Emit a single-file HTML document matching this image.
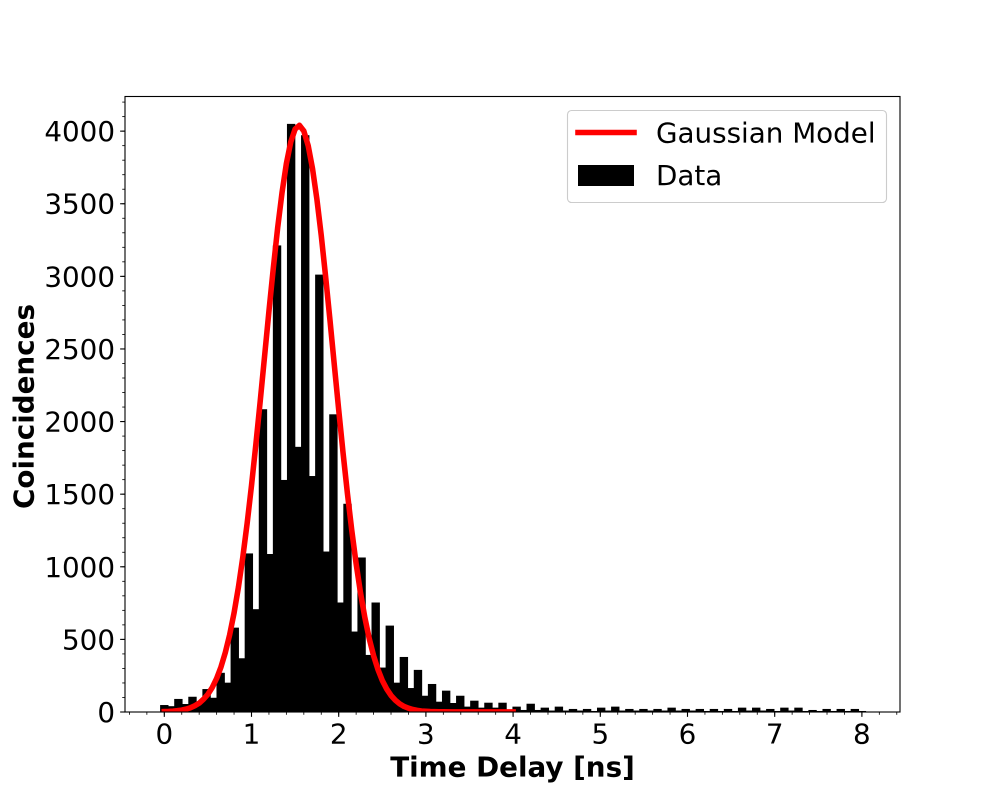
<!DOCTYPE html>
<html lang="en">
<head>
<meta charset="utf-8">
<title>Time Delay Histogram</title>
<style>
html,body{margin:0;padding:0;background:#fff;width:1000px;height:800px;overflow:hidden}
svg{display:block}
text{font-family:"DejaVu Sans","Liberation Sans",sans-serif;fill:#000}
</style>
</head>
<body>
<svg id="chart" xmlns="http://www.w3.org/2000/svg" width="1000" height="800" viewBox="0 0 1000 800">
  <defs><clipPath id="plot-clip"><rect x="125" y="96" width="775" height="616"/></clipPath></defs>
  <rect x="0" y="0" width="1000" height="800" fill="#fff"/>
  <g id="bars"></g>
  <polyline id="curve" fill="none" stroke="#ff0000" stroke-width="5.56" stroke-linejoin="round" stroke-linecap="square" clip-path="url(#plot-clip)"/>
  <g id="ticks"></g>
  <rect x="125" y="96.5" width="775" height="615.5" fill="none" stroke="#000" stroke-width="1.11"/>
  <text x="512.5" y="776.5" text-anchor="middle" font-size="27.78" font-weight="700">Time Delay [ns]</text>
  <text transform="translate(33.5,406.5) rotate(-90)" text-anchor="middle" font-size="27.78" font-weight="700">Coincidences</text>
  <g>
    <rect x="567.5" y="110.5" width="319" height="92" rx="4" ry="4" fill="#fff" fill-opacity="0.8" stroke="#cccccc" stroke-width="1.11"/>
    <line x1="578" y1="132.5" x2="634" y2="132.5" stroke="#ff0000" stroke-width="5.56" stroke-linecap="square"/>
    <text x="656" y="142.5" font-size="27.78">Gaussian Model</text>
    <rect x="578" y="165" width="56" height="21" fill="#000"/>
    <text x="656" y="185" font-size="27.78">Data</text>
  </g>
</svg>
<script>
const binValues = [48,40,90,55,105,70,158,98,270,202,581,370,1092,708,2085,1088,3213,1598,4050,1826,3972,1625,3012,1105,2050,754,1434,554,1064,393,754,306,595,202,379,165,290,112,193,71,147,62,112,37,78,30,64,30,64,14,37,14,57,14,30,10,37,10,21,10,21,7,30,10,37,10,21,10,21,10,21,10,30,10,21,10,21,7,21,7,21,7,30,10,30,10,21,7,30,10,30,7,14,7,21,7,21,7,21,7];
const binCount = binValues.length;
const binStart = 0;
const binEnd = 8;
const barWidth = 0.096;
const modelDelays = [0,0.05,0.1,0.15,0.2,0.25,0.3,0.35,0.4,0.45,0.5,0.55,0.6,0.65,0.7,0.75,0.8,0.85,0.9,0.95,1,1.05,1.1,1.15,1.2,1.25,1.3,1.35,1.4,1.45,1.5,1.55,1.6,1.65,1.7,1.75,1.8,1.85,1.9,1.95,2,2.05,2.1,2.15,2.2,2.25,2.3,2.35,2.4,2.45,2.5,2.55,2.6,2.65,2.7,2.75,2.8,2.85,2.9,2.95,3,3.05,3.1,3.15,3.2,3.3,3.4,3.6,3.8,4];
const modelCounts = [3,4,6,9,13,20,29,43,61,88,122,169,231,310,410,533,682,859,1065,1299,1559,1843,2141,2450,2760,3056,3334,3576,3777,3925,4014,4040,4001,3900,3741,3531,3281,2998,2698,2388,2081,1784,1505,1250,1021,821,650,506,388,293,217,159,114,81,56,38,26,17,11,7,5,3,2,1.5,1.2,1,1,1,1,1];
const xTickLabels = ["0","1","2","3","4","5","6","7","8"];
const yTickLabels = ["0","500","1000","1500","2000","2500","3000","3500","4000"];
const xMinorStep = 0.2;
const yMinorStep = 100;
const xDomain = [-0.4507, 8.437];
const yDomain = [0, 4242];

const NS = 'http://www.w3.org/2000/svg';
function xScale(v){ return 125 + (v - xDomain[0]) / (xDomain[1] - xDomain[0]) * 775; }
function yScale(v){ return 712 - (v - yDomain[0]) / (yDomain[1] - yDomain[0]) * 616; }
function make(tag, attrs){
  const el = document.createElementNS(NS, tag);
  for (const k in attrs) el.setAttribute(k, attrs[k]);
  return el;
}

const barsG = document.getElementById('bars');
binValues.forEach(function(v, i){
  const c = binStart + (binEnd - binStart) * i / (binCount - 1);
  const x0 = xScale(c - barWidth / 2);
  const x1 = xScale(c + barWidth / 2);
  const r = make('rect', {x: x0, y: yScale(v), width: x1 - x0, height: yScale(0) - yScale(v), fill: '#000'});
  
  
  barsG.appendChild(r);
});

document.getElementById('curve').setAttribute('points', modelDelays.map(function(d, i){
  return xScale(d).toFixed(2) + ',' + yScale(modelCounts[i]).toFixed(2);
}).join(' '));

const ticksG = document.getElementById('ticks');
function vTick(v, len, w){
  const x = xScale(v);
  const t = make('line', {x1: x, x2: x, y1: 712, y2: 712 + len, stroke: '#000', 'stroke-width': w});
  
  
  ticksG.appendChild(t);
}
function hTick(v, len, w){
  const y = yScale(v);
  const t = make('line', {x1: 125, x2: 125 - len, y1: y, y2: y, stroke: '#000', 'stroke-width': w});
  
  
  ticksG.appendChild(t);
}
for (let k = Math.ceil(xDomain[0] / xMinorStep); k * xMinorStep <= xDomain[1]; k++) vTick(k * xMinorStep, 2.78, 0.83);
for (let k = 0; k * yMinorStep <= yDomain[1]; k++) hTick(k * yMinorStep, 2.78, 0.83);

xTickLabels.forEach(function(s){
  const v = Number(s);
  vTick(v, 4.86, 1.11);
  const t = make('text', {x: xScale(v), y: 743.5, 'text-anchor': 'middle', 'font-size': 27.78});
  
  
  t.textContent = s;
  ticksG.appendChild(t);
});
yTickLabels.forEach(function(s){
  const v = Number(s);
  hTick(v, 4.86, 1.11);
  const t = make('text', {x: 115, y: yScale(v) + 10, 'text-anchor': 'end', 'font-size': 27.78});
  
  
  t.textContent = s;
  ticksG.appendChild(t);
});
</script>
</body>
</html>
